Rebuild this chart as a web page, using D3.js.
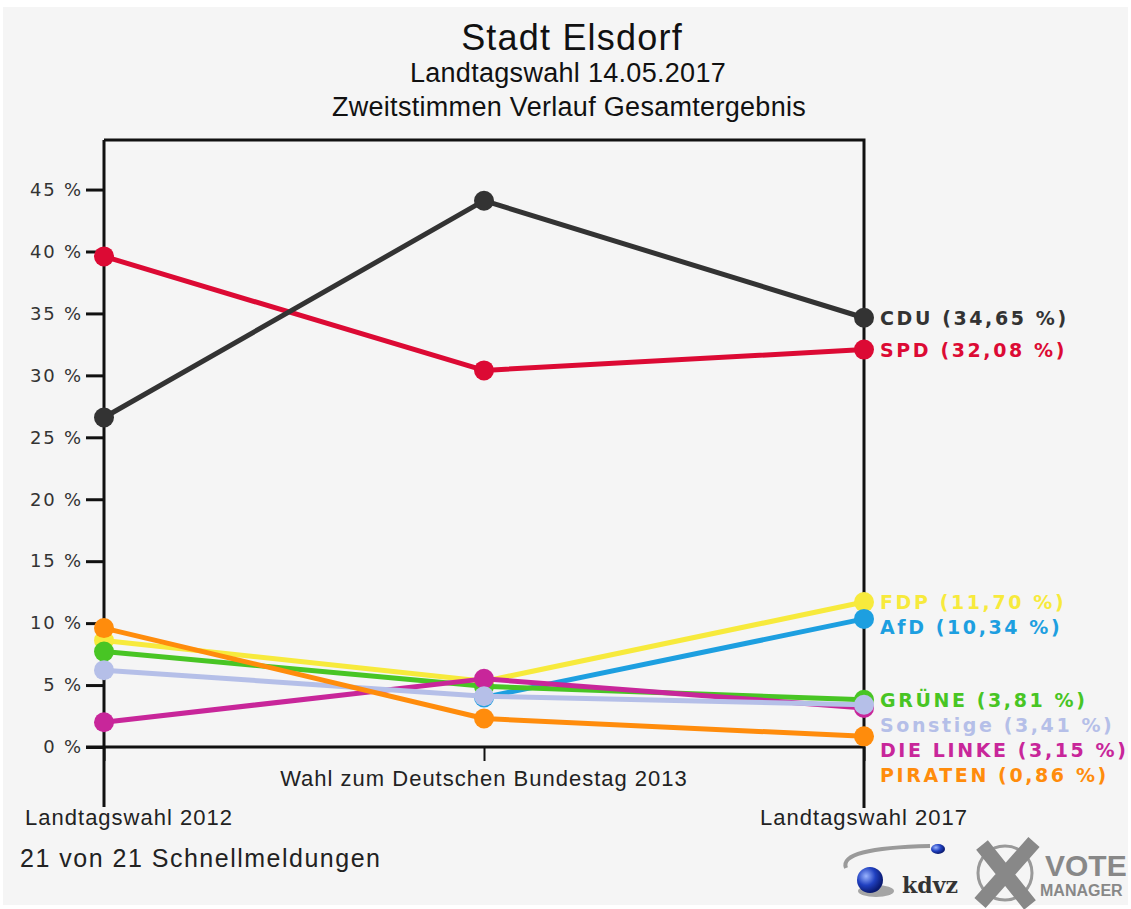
<!DOCTYPE html>
<html>
<head>
<meta charset="utf-8">
<title>Stadt Elsdorf - Landtagswahl 14.05.2017</title>
<style>
  body { margin: 0; background: #ffffff; }
  svg { display: block; }
  .title { font-family: 'Liberation Sans', Arial, sans-serif; fill: #111; }
  .tick text { font-family: 'DejaVu Sans', sans-serif; font-size: 18px; letter-spacing: 1.8px; fill: #333; }
  .plabel { font-family: 'DejaVu Sans', sans-serif; font-size: 19px; font-weight: bold; letter-spacing: 2.6px; }
  .xlab { font-family: 'Liberation Sans', Arial, sans-serif; font-size: 22px; letter-spacing: 1px; fill: #222; }
</style>
</head>
<body>
<div id="chart"></div>
<script src="https://cdnjs.cloudflare.com/ajax/libs/d3/7.8.5/d3.min.js"></script>
<script>
// elections (x categories)
var elections = ["Landtagswahl 2012", "Wahl zum Deutschen Bundestag 2013", "Landtagswahl 2017"];

// parties, in drawing order
var parties = ["SPD", "CDU", "FDP", "AfD", "GRÜNE", "DIE LINKE", "Sonstige", "PIRATEN"];
var colors  = ["#dc0a34", "#333333", "#f7ea3c", "#1d9fe0", "#48c524", "#c8269a", "#b5bfe8", "#ff8c0c"];

// values in % per election (null = not running)
var vSPD      = [39.6, 30.4, 32.08];
var vCDU      = [26.6, 44.1, 34.65];
var vFDP      = [8.6, 5.3, 11.70];
var vAfD      = [null, 4.0, 10.34];
var vGRUENE   = [7.7, 4.9, 3.81];
var vLINKE    = [2.0, 5.5, 3.15];
var vSONSTIGE = [6.2, 4.1, 3.41];
var vPIRATEN  = [9.6, 2.3, 0.86];
var values = [vSPD, vCDU, vFDP, vAfD, vGRUENE, vLINKE, vSONSTIGE, vPIRATEN];

var yTicks = [0, 5, 10, 15, 20, 25, 30, 35, 40, 45];

(function(){
var width = 1131, height = 909;
var pLeft = 104, pRight = 864, pTop = 140, pBottom = 747;

var svg = d3.select("#chart").append("svg")
    .attr("width", width)
    .attr("height", height);

// grey panel
svg.append("rect")
    .attr("x", 3).attr("y", 7)
    .attr("width", 1125).attr("height", 898)
    .attr("fill", "#f5f5f5");

// titles
svg.append("text").attr("class", "title")
    .attr("x", 572).attr("y", 50)
    .attr("text-anchor", "middle")
    .style("font-size", "36px").style("letter-spacing", "1.2px")
    .text("Stadt Elsdorf");
svg.append("text").attr("class", "title")
    .attr("x", 568).attr("y", 82)
    .attr("text-anchor", "middle")
    .style("font-size", "27px").style("letter-spacing", "0.3px")
    .text("Landtagswahl 14.05.2017");
svg.append("text").attr("class", "title")
    .attr("x", 569).attr("y", 116)
    .attr("text-anchor", "middle")
    .style("font-size", "27px").style("letter-spacing", "0.3px")
    .text("Zweitstimmen Verlauf Gesamtergebnis");

var x = d3.scalePoint()
    .domain(elections)
    .range([pLeft, pRight]);

var y = d3.scaleLinear()
    .domain([0, 49])
    .range([pBottom, pTop]);

// plot frame (top and right)
svg.append("path")
    .attr("d", "M" + pLeft + "," + pTop + "H" + pRight + "V" + pBottom)
    .attr("fill", "none")
    .attr("stroke", "#111")
    .attr("stroke-width", 3);

// y axis
var yAxis = svg.append("g")
    .attr("transform", "translate(" + pLeft + ",0)")
    .call(d3.axisLeft(y).tickValues(yTicks).tickSize(18).tickPadding(3)
        .tickFormat(function(d){ return d + " %"; }));
yAxis.select(".domain").remove();
yAxis.selectAll(".tick line").attr("stroke", "#111").attr("stroke-width", 3);
svg.append("line")
    .attr("x1", pLeft).attr("x2", pLeft)
    .attr("y1", pTop).attr("y2", 807)
    .attr("stroke", "#111").attr("stroke-width", 3);

// x axis
var xAxis = svg.append("g")
    .attr("transform", "translate(0," + pBottom + ")")
    .call(d3.axisBottom(x).tickSize(14).tickFormat(""));
xAxis.select(".domain").remove();
xAxis.selectAll(".tick line").attr("stroke", "#111").attr("stroke-width", 2);
svg.append("line")
    .attr("x1", pLeft - 18).attr("x2", pRight)
    .attr("y1", pBottom).attr("y2", pBottom)
    .attr("stroke", "#111").attr("stroke-width", 3);
svg.append("line")
    .attr("x1", pRight).attr("x2", pRight)
    .attr("y1", pBottom).attr("y2", 808)
    .attr("stroke", "#111").attr("stroke-width", 3);

// x labels
svg.append("text").attr("class", "xlab")
    .attr("x", x(elections[0]) + 25).attr("y", 825)
    .attr("text-anchor", "middle")
    .text(elections[0]);
svg.append("text").attr("class", "xlab")
    .attr("x", x(elections[1])).attr("y", 786)
    .attr("text-anchor", "middle")
    .text(elections[1]);
svg.append("text").attr("class", "xlab")
    .attr("x", x(elections[2])).attr("y", 825)
    .attr("text-anchor", "middle")
    .text(elections[2]);

// lines and dots
var line = d3.line()
    .defined(function(d){ return d.v !== null; })
    .x(function(d){ return x(d.e); })
    .y(function(d){ return y(d.v); });

parties.forEach(function(p, i){
    var pts = values[i].map(function(v, j){ return {e: elections[j], v: v}; });
    svg.append("path")
        .datum(pts)
        .attr("d", line)
        .attr("fill", "none")
        .attr("stroke", colors[i])
        .attr("stroke-width", 5)
        .attr("stroke-linejoin", "round");
    svg.selectAll(".dot" + i)
        .data(pts.filter(function(d){ return d.v !== null; }))
        .enter().append("circle")
        .attr("cx", function(d){ return x(d.e); })
        .attr("cy", function(d){ return y(d.v); })
        .attr("r", 10)
        .attr("fill", colors[i]);
});

// end labels, pushed apart
var fmt = function(v){ return v.toFixed(2).replace(".", ","); };
var labels = parties.map(function(p, i){
    var v = values[i][2];
    return {text: p + " (" + fmt(v) + " %)", color: colors[i], y: y(v)};
}).sort(function(a, b){ return a.y - b.y; });
for (var k = 1; k < labels.length; k++) {
    if (labels[k].y < labels[k - 1].y + 25) labels[k].y = labels[k - 1].y + 25;
}
svg.selectAll(".plabel")
    .data(labels)
    .enter().append("text")
    .attr("class", "plabel")
    .attr("x", pRight + 16)
    .attr("y", function(d){ return d.y + 7; })
    .attr("fill", function(d){ return d.color; })
    .text(function(d){ return d.text; });

// footer
svg.append("text")
    .attr("x", 20).attr("y", 867)
    .style("font-family", "'Liberation Sans', Arial, sans-serif")
    .style("font-size", "25px").style("letter-spacing", "1.5px")
    .attr("fill", "#222")
    .text("21 von 21 Schnellmeldungen");

// logos
var logo = svg.append("g");
var grad = svg.append("defs").append("radialGradient")
    .attr("id", "ball").attr("cx", "35%").attr("cy", "35%").attr("r", "65%");
grad.append("stop").attr("offset", "0%").attr("stop-color", "#9ab4ff");
grad.append("stop").attr("offset", "55%").attr("stop-color", "#2040c0");
grad.append("stop").attr("offset", "100%").attr("stop-color", "#0a1a70");
logo.append("path")
    .attr("d", "M846,868 Q838,848 930,846")
    .attr("fill", "none").attr("stroke", "#9a9a9a").attr("stroke-width", 4);
logo.append("ellipse")
    .attr("cx", 876).attr("cy", 891).attr("rx", 18).attr("ry", 6)
    .attr("fill", "#555").attr("opacity", 0.5);
logo.append("circle")
    .attr("cx", 870).attr("cy", 880).attr("r", 13)
    .attr("fill", "url(#ball)");
logo.append("ellipse")
    .attr("cx", 938).attr("cy", 849).attr("rx", 7).attr("ry", 5)
    .attr("fill", "url(#ball)");
logo.append("text")
    .attr("x", 902).attr("y", 893)
    .style("font-family", "'DejaVu Serif', serif")
    .style("font-size", "22px").style("font-weight", "bold")
    .attr("fill", "#333")
    .text("kdvz");
logo.append("circle")
    .attr("cx", 1005).attr("cy", 873).attr("r", 27)
    .attr("fill", "none").attr("stroke", "#999").attr("stroke-width", 3);
logo.append("path")
    .attr("d", "M982,845 L1030,905 M1034,842 L980,903")
    .attr("stroke", "#888").attr("stroke-width", 15);
logo.append("text")
    .attr("x", 1045).attr("y", 876)
    .style("font-family", "'Liberation Sans', Arial, sans-serif")
    .style("font-size", "30px").style("font-weight", "bold")
    .attr("fill", "#888")
    .text("VOTE");
logo.append("text")
    .attr("x", 1040).attr("y", 896)
    .style("font-family", "'Liberation Sans', Arial, sans-serif")
    .style("font-size", "16px").style("font-weight", "bold")
    .attr("fill", "#888")
    .text("MANAGER");
})();
</script>
</body>
</html>
